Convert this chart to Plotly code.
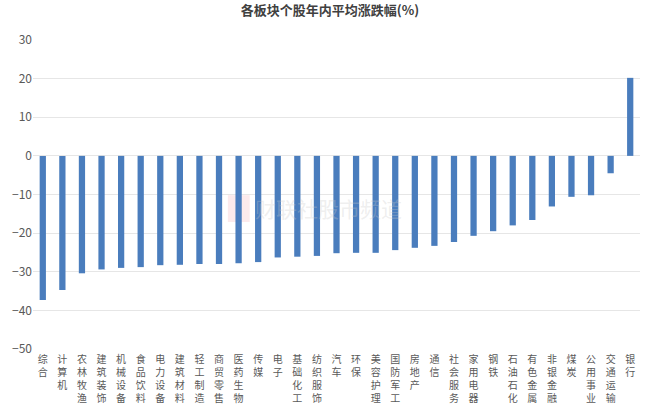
import plotly.graph_objects as go

categories = ["综合", "计算机", "农林牧渔", "建筑装饰", "机械设备", "食品饮料", "电力设备",
              "建筑材料", "轻工制造", "商贸零售", "医药生物", "传媒", "电子", "基础化工",
              "纺织服饰", "汽车", "环保", "美容护理", "国防军工", "房地产", "通信", "社会服务",
              "家用电器", "钢铁", "石油石化", "有色金属", "非银金融", "煤炭", "公用事业",
              "交通运输", "银行"]
values = [-37.3, -34.7, -30.4, -29.4, -29.0, -28.8, -28.3, -28.2, -28.0, -28.0, -27.8,
          -27.5, -26.3, -26.1, -25.9, -25.2, -25.1, -25.1, -24.4, -23.8, -23.3, -22.3,
          -20.7, -19.5, -18.0, -16.6, -13.1, -10.6, -10.2, -4.5, 20.2]
y_ticks = [30, 20, 10, 0, -10, -20, -30, -40, -50]
title = "各板块个股年内平均涨跌幅(%)"

ticktext = ["<br>".join(list(c)) for c in categories]

fig = go.Figure()
fig.add_trace(go.Bar(x=categories, y=values, marker=dict(color="#4a7dbd", line=dict(width=0)),
                     width=0.32))

fig.update_layout(
    width=660, height=410,
    margin=dict(l=33, r=20, t=40, b=61),
    paper_bgcolor="white", plot_bgcolor="white",
    font=dict(family="Noto Sans CJK SC, sans-serif", color="#595959"),
    title=dict(text="<b>" + title + "</b>", x=0.5, xanchor="center", y=0.975, yanchor="middle",
               font=dict(size=13, color="#404040")),
    showlegend=False,
)
fig.update_yaxes(range=[-50, 30], tickvals=y_ticks, showgrid=True, gridcolor="#e6e6e6",
                 gridwidth=1, zeroline=True, zerolinecolor="#e6e6e6", zerolinewidth=1,
                 tickfont=dict(size=12, color="#595959"), ticks="", showline=False,
                 automargin=False)
fig.update_xaxes(tickmode="array", tickvals=categories, ticktext=ticktext, tickangle=0,
                 tickfont=dict(size=10, color="#595959"), showline=False, ticks="",
                 automargin=False, ticklabelstandoff=3)

# watermark
fig.add_shape(type="rect", xref="paper", yref="paper", x0=0.321, x1=0.357, y0=0.411, y1=0.498,
              fillcolor="rgba(240,150,160,0.2)", line=dict(width=0), layer="below")
fig.add_annotation(text="财联社股市频道", xref="paper", yref="paper", x=0.363, y=0.456,
                   xanchor="left", yanchor="middle", showarrow=False,
                   font=dict(size=21, color="rgba(200,200,200,0.3)"))

fig.write_html("out.html")
